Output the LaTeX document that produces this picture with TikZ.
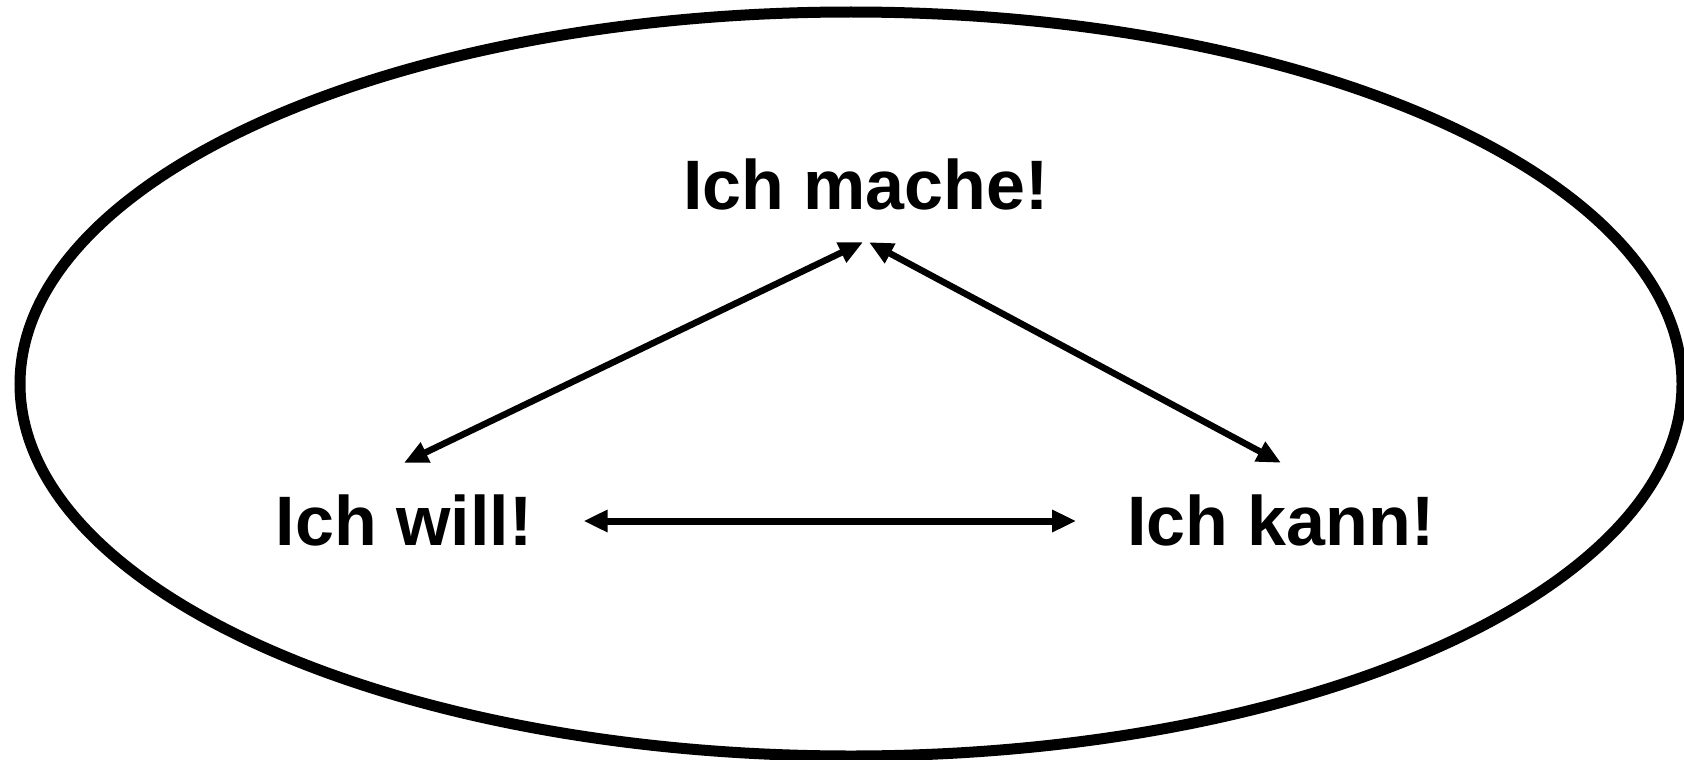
\documentclass[tikz,border=0pt]{standalone}
\usepackage{fontspec}
\setmainfont{Liberation Sans}
\usetikzlibrary{arrows.meta}
\tikzset{
  lbl/.style={font=\fontsize{70pt}{80pt}\selectfont\bfseries, text height=50pt, text depth=0pt,
    inner xsep=0pt, inner ysep=32pt, anchor=base},
  con/.style={line width=6.5pt, {Triangle[length=24pt,width=21pt]}-{Triangle[length=24pt,width=21pt]}},
}
\begin{document}
\begin{tikzpicture}[x=1pt,y=-1pt]
\useasboundingbox (0,0) rectangle (1684,760);
\begin{scope}
\clip (0,0) rectangle (1684,760);
\draw[line width=11pt] (851,384) ellipse [x radius=831, y radius=372];
\end{scope}
\node[lbl] (mache) at (866,209) {Ich mache!};
\node[lbl] (will) at (404,545) {Ich will!};
\node[lbl] (kann) at (1281,545) {Ich kann!};
\draw[con] (will.north) -- ([xshift=-3pt,yshift=-1pt]mache.south);
\draw[con] (kann.north) -- ([xshift=3pt,yshift=-1pt]mache.south);
\draw[con, line width=7pt, shorten <=51pt, shorten >=51pt] ([yshift=-1pt]will.east) -- ([yshift=-1pt]kann.west);
\end{tikzpicture}
\end{document}
